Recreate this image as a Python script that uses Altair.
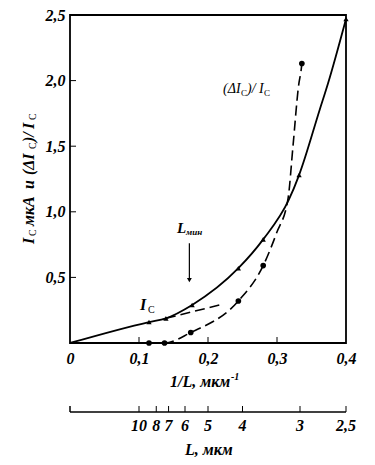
import altair as alt
import pandas as pd

FONT = "Liberation Serif"

# Solid curve I_C (1/L, value)
ic_curve_x = [0.0, 0.1145, 0.139, 0.177, 0.244, 0.280, 0.317, 0.332, 0.362, 0.374, 0.400]
ic_curve_y = [0.0, 0.16, 0.188, 0.29, 0.57, 0.79, 1.09, 1.28, 1.78, 1.98, 2.47]
# I_C measured points (triangles)
ic_pts_x = [0.1145, 0.139, 0.177, 0.244, 0.280, 0.332, 0.400]
ic_pts_y = [0.16, 0.188, 0.29, 0.57, 0.79, 1.28, 2.47]

# Dashed curve (dI_C)/I_C
d_curve_x = [0.1145, 0.137, 0.175, 0.244, 0.280, 0.2995, 0.316, 0.323, 0.331, 0.336, 0.3368]
d_curve_y = [0.0, 0.0, 0.08, 0.32, 0.59, 0.84, 1.10, 1.49, 1.95, 2.13, 2.18]
d_pts_x = [0.1145, 0.137, 0.175, 0.244, 0.280, 0.336]
d_pts_y = [0.0, 0.0, 0.08, 0.32, 0.59, 2.13]

# tangent dashed segment
tan_x = [0.139, 0.217]
tan_y = [0.188, 0.29]

# L_min arrow
arrow_x = [0.173]
arrow_top = [0.76]
arrow_tip = [0.48]

# axis ticks
x_ticks = [0.0, 0.1, 0.2, 0.3, 0.4]
y_ticks = [0.5, 1.0, 1.5, 2.0, 2.5]
# secondary axis: L in micrometres
L_vals = [10, 8, 7, 6, 5, 4, 3, 2.5]
L_labels = ["10", "8", "7", "6", "5", "4", "3", "2,5"]

W, H = 276, 328
AX2 = H + 69  # secondary axis line position

xs = alt.Scale(domain=[0, 0.4], nice=False, zero=False)
ys = alt.Scale(domain=[0, 2.5], nice=False, zero=False)

ic_curve = pd.DataFrame({"x": ic_curve_x, "y": ic_curve_y})
ic_pts = pd.DataFrame({"x": ic_pts_x, "y": ic_pts_y})
d_curve = pd.DataFrame({"x": d_curve_x, "y": d_curve_y})
d_pts = pd.DataFrame({"x": d_pts_x, "y": d_pts_y})
tan = pd.DataFrame({"x": tan_x, "y": tan_y})
arr = pd.DataFrame({"x": arrow_x, "y": arrow_top, "y2": arrow_tip})
L_df = pd.DataFrame({"inv": [1.0 / v for v in L_vals], "lab": L_labels})
one = pd.DataFrame({"a": [0]})

xaxis = alt.Axis(values=x_ticks, ticks=False, domain=False, grid=False, title=None,
                 labelExpr="datum.value == 0 ? '0' : replace(format(datum.value, '.1f'), '.', ',')",
                 labelFont=FONT, labelFontSize=16, labelFontStyle="italic", labelFontWeight="bold",
                 labelColor="black", labelPadding=7, labelFlush=False)
yaxis = alt.Axis(values=y_ticks, ticks=False, domain=False, grid=False, title=None,
                 labelExpr="replace(format(datum.value, '.1f'), '.', ',')",
                 labelFont=FONT, labelFontSize=16, labelFontStyle="italic", labelFontWeight="bold",
                 labelColor="black", labelPadding=5, labelFlush=False)

base_line = alt.Chart(ic_curve).mark_line(color="black", strokeWidth=1.8, interpolate="monotone").encode(
    x=alt.X("x:Q", scale=xs, axis=xaxis),
    y=alt.Y("y:Q", scale=ys, axis=yaxis),
)
ic_mark = alt.Chart(ic_pts).mark_point(shape="triangle-up", filled=True, color="black", size=28, opacity=1).encode(
    x=alt.X("x:Q", scale=xs), y=alt.Y("y:Q", scale=ys))
d_line = alt.Chart(d_curve).mark_line(color="black", strokeWidth=1.6, strokeDash=[10, 5], interpolate="monotone").encode(
    x=alt.X("x:Q", scale=xs), y=alt.Y("y:Q", scale=ys))
d_mark = alt.Chart(d_pts).mark_point(shape="circle", filled=True, color="black", size=32, opacity=1).encode(
    x=alt.X("x:Q", scale=xs), y=alt.Y("y:Q", scale=ys))
tan_line = alt.Chart(tan).mark_line(color="black", strokeWidth=1.6, strokeDash=[10, 5]).encode(
    x=alt.X("x:Q", scale=xs), y=alt.Y("y:Q", scale=ys))
arrow_line = alt.Chart(arr).mark_rule(color="black", strokeWidth=1.2).encode(
    x=alt.X("x:Q", scale=xs), y=alt.Y("y:Q", scale=ys), y2="y2:Q")
arrow_head = alt.Chart(arr).mark_point(shape="triangle-down", filled=True, color="black", size=24, opacity=1).encode(
    x=alt.X("x:Q", scale=xs), y=alt.Y("y2:Q", scale=ys))

# frame
frame = alt.Chart(one).mark_rect(fill=None, stroke="black", strokeWidth=1.8).encode(
    x=alt.value(0), x2=alt.value(W), y=alt.value(0), y2=alt.value(H))

# inward ticks
xtick_in = alt.Chart(pd.DataFrame({"x": x_ticks[1:4]})).mark_rule(color="black", strokeWidth=1).encode(
    x=alt.X("x:Q", scale=xs), y=alt.value(H), y2=alt.value(H - 6))
ytick_in = alt.Chart(pd.DataFrame({"y": y_ticks[:4]})).mark_rule(color="black", strokeWidth=1).encode(
    y=alt.Y("y:Q", scale=ys), x=alt.value(0), x2=alt.value(6))

# secondary L axis
ax2_line = alt.Chart(one).mark_rule(color="black", strokeWidth=1.5).encode(
    x=alt.value(0), x2=alt.value(W), y=alt.value(AX2))
ax2_tick0 = alt.Chart(one).mark_rule(color="black", strokeWidth=1.5).encode(
    x=alt.value(0), y=alt.value(AX2), y2=alt.value(AX2 - 6))
ax2_ticks = alt.Chart(L_df).mark_rule(color="black", strokeWidth=1).encode(
    x=alt.X("inv:Q", scale=xs), y=alt.value(AX2), y2=alt.value(AX2 - 6))
ax2_labels = alt.Chart(L_df).mark_text(font=FONT, fontSize=16, fontStyle="italic", fontWeight="bold",
                                       color="black", baseline="alphabetic", align="center").encode(
    x=alt.X("inv:Q", scale=xs), y=alt.value(AX2 + 19), text="lab:N")


def txt(s, x, y, size=16, style="italic", weight="bold", angle=0, align="left"):
    return alt.Chart(one).mark_text(text=s, font=FONT, fontSize=size, fontStyle=style, fontWeight=weight,
                                    angle=angle, align=align, baseline="alphabetic", color="black").encode(
        x=alt.value(x), y=alt.value(y))


texts = [
    # y-axis title (rotated)
    txt("I", -36, 229, angle=270),
    txt("C", -34, 221, size=10, style="normal", weight="normal", angle=270),
    txt("мкА", -36, 211, angle=270),
    txt("и", -36, 174, angle=270),
    txt("(ΔI", -36, 160, angle=270),
    txt("C", -34, 134, size=10, style="normal", weight="normal", angle=270),
    txt(")/", -36, 127, angle=270),
    txt("I", -36, 114, angle=270),
    txt("C", -34, 105, size=10, style="normal", weight="normal", angle=270),
    # x-axis title
    txt("1/L,  мкм", 100, 372),
    txt("-1", 161, 365, size=10),
    # secondary axis title
    txt("L,  мкм", 115, 440),
    # annotations
    txt("L", 107, 218, size=15),
    txt("мин", 116, 220, size=9),
    txt("I", 70, 295, size=16),
    txt("C", 78, 298, size=10, style="normal", weight="normal"),
    txt("(ΔI", 153, 78, size=14, weight="normal"),
    txt("C", 171, 81, size=9, style="normal", weight="normal"),
    txt(")/ I", 177, 78, size=14, weight="normal"),
    txt("C", 194, 81, size=9, style="normal", weight="normal"),
]

chart = alt.layer(
    frame, base_line, tan_line, d_line, ic_mark, d_mark, arrow_line, arrow_head,
    xtick_in, ytick_in, ax2_line, ax2_tick0, ax2_ticks, ax2_labels, *texts
).properties(
    width=W, height=H,
    autosize=alt.AutoSizeParams(type="none"),
    padding={"left": 62, "top": 7, "right": 20, "bottom": 114},
).configure(background="white").configure_view(stroke=None)

chart.save("out.html", embed_options={"renderer": "svg", "actions": False})
